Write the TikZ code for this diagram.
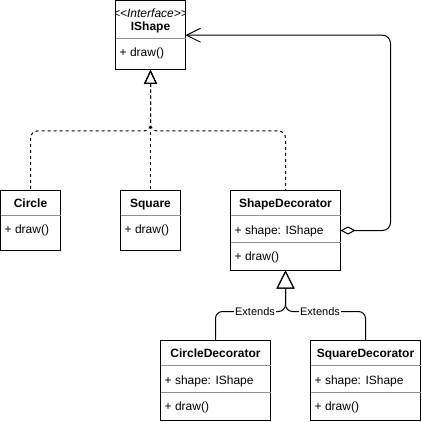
\documentclass[tikz,border=0pt]{standalone}
\usepackage{fontspec}
\setmainfont{Liberation Sans}
\usetikzlibrary{arrows.meta,calc}
\definecolor{sepgray}{HTML}{909090}
\begin{document}
\begin{tikzpicture}[x=1pt,y=-1pt,
  cls/.style={draw=black,line width=1pt,anchor=north west,inner sep=0pt,outer sep=0pt},
  sepline/.style={draw=sepgray,line width=1pt},
  ttl/.style={anchor=base,inner sep=0pt,font=\fontsize{12}{14}\selectfont\bfseries},
  stereo/.style={anchor=base,inner sep=0pt,font=\fontsize{12}{14}\selectfont\itshape},
  attr/.style={anchor=base west,inner sep=0pt,font=\fontsize{12}{14}\selectfont},
  lbl/.style={fill=white,inner sep=1pt,font=\fontsize{11}{13}\selectfont},
  conn/.style={draw=black,line width=1pt},
  real/.style={conn,dash pattern=on 3pt off 3pt,rounded corners=7pt,{Triangle[open,length=14pt,width=13pt]}-},
  ext/.style={conn,rounded corners=7pt,{Triangle[open,length=18pt,width=18pt]}-},
]
\useasboundingbox (0,0) rectangle (422,422);

% IShape
\begin{scope}
\clip (115.5,0.5) rectangle (185.5,70);
\node[stereo] (ist) at (150.5,17.5) {<\kern0pt<Interface>\kern0pt>};
\end{scope}
\node[cls,minimum width=70pt,minimum height=69.5pt] (ishape) at (115.5,0.5) {};
\draw[sepline] ($(ishape.north west)+(0,38.5)$) -- ($(ishape.north east)+(0,38.5)$);
\node[ttl] (ishapet) at (150.5,31) {IShape};
\node[attr] (ishapem) at (119.5,57) {+ draw()};

% Circle
\node[cls,minimum width=60pt,minimum height=59.5pt] (circle) at (0.5,190.5) {};
\draw[sepline] ($(circle.north west)+(0,24.5)$) -- ($(circle.north east)+(0,24.5)$);
\node[ttl] (circlet) at (30.5,207) {Circle};
\node[attr] (circlem) at (4.5,233) {+ draw()};

% Square
\node[cls,minimum width=60pt,minimum height=59.5pt] (square) at (120.5,190.5) {};
\draw[sepline] ($(square.north west)+(0,24.5)$) -- ($(square.north east)+(0,24.5)$);
\node[ttl] (squaret) at (150.5,207) {Square};
\node[attr] (squarem) at (124.5,233) {+ draw()};

% ShapeDecorator
\node[cls,minimum width=110pt,minimum height=80pt] (shdec) at (230.5,190.5) {};
\draw[sepline] ($(shdec.north west)+(0,24.5)$) -- ($(shdec.north east)+(0,24.5)$);
\draw[sepline] ($(shdec.north west)+(0,51.5)$) -- ($(shdec.north east)+(0,51.5)$);
\node[ttl] (shdect) at (285.5,207) {ShapeDecorator};
\node[attr] (shdeca) at (234.5,234) {+ shape: IShape};
\node[attr] (shdecm) at (234.5,260.5) {+ draw()};

% CircleDecorator
\node[cls,minimum width=110pt,minimum height=80pt] (cdec) at (160.5,340.5) {};
\draw[sepline] ($(cdec.north west)+(0,24.5)$) -- ($(cdec.north east)+(0,24.5)$);
\draw[sepline] ($(cdec.north west)+(0,51.5)$) -- ($(cdec.north east)+(0,51.5)$);
\node[ttl] (cdect) at (215.5,357) {CircleDecorator};
\node[attr] (cdeca) at (164.5,384) {+ shape: IShape};
\node[attr] (cdecm) at (164.5,410.5) {+ draw()};

% SquareDecorator
\node[cls,minimum width=110pt,minimum height=80pt] (sqdec) at (310.5,340.5) {};
\draw[sepline] ($(sqdec.north west)+(0,24.5)$) -- ($(sqdec.north east)+(0,24.5)$);
\draw[sepline] ($(sqdec.north west)+(0,51.5)$) -- ($(sqdec.north east)+(0,51.5)$);
\node[ttl] (sqdect) at (365.5,357) {SquareDecorator};
\node[attr] (sqdeca) at (314.5,384) {+ shape: IShape};
\node[attr] (sqdecm) at (314.5,410.5) {+ draw()};

% realization connectors
\coordinate (jn) at (0,131);
\draw[real] (ishape.south) -- (ishape.south |- jn) -| (circle.north);
\draw[real] (ishape.south) -- (square.north);
\draw[real] (ishape.south) -- (ishape.south |- jn) -| (shdec.north);

% extends connectors
\coordinate (el) at (0,311.5);
\draw[ext] (shdec.south) -- (shdec.south |- el) -| (cdec.north);
\draw[ext] (shdec.south) -- (shdec.south |- el) -| (sqdec.north);
\node[lbl] (ext1) at (255,311.5) {Extends};
\node[lbl] (ext2) at (320,311.5) {Extends};

% aggregation
\coordinate (ax) at (390.5,0);
\draw[conn,rounded corners=8pt,{Diamond[open,length=15pt,width=8pt]}-{Straight Barb[length=14pt,width=14pt]}] (shdec.east) -| (ax |- ishape.east) -- (ishape.east);
\end{tikzpicture}
\end{document}
